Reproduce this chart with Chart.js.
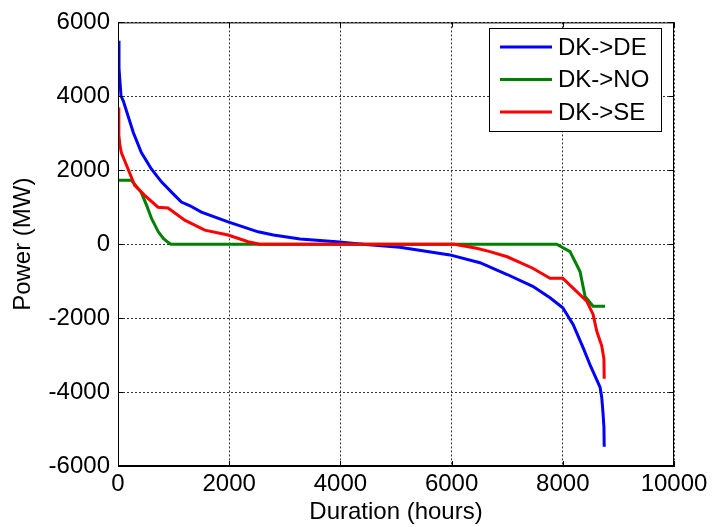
<!DOCTYPE html>
<html>
<head>
<meta charset="utf-8">
<script src="https://cdn.jsdelivr.net/npm/chart.js@4/dist/chart.umd.min.js"></script>
<style>
  html, body { margin: 0; padding: 0; background: #fff; }
  #wrap { width: 712px; height: 527px; }
</style>
</head>
<body>
<div id="wrap"><canvas id="durChart" width="712" height="527"></canvas></div>
<script>
// duration curves (hours, MW)
var hoursDE = [0, 18, 18, 54, 96, 275, 420, 600, 785, 1020, 1140, 1295, 1500, 1980, 2520, 2795, 3275, 3930, 4400, 5070, 5970, 6510, 7000, 7460, 7770, 8000, 8185, 8365, 8500, 8670, 8700, 8720, 8740, 8745];
var powerDE = [5460, 5460, 4765, 4010, 3870, 3020, 2480, 2035, 1680, 1320, 1140, 1040, 870, 604, 335, 247, 140, 67, 0, -85, -290, -500, -820, -1140, -1450, -1720, -2170, -2800, -3300, -3870, -4140, -4500, -4945, -5480];

var hoursNO = [0, 240, 415, 515, 605, 725, 815, 900, 950, 7890, 8130, 8310, 8400, 8545, 8760];
var powerNO = [1730, 1730, 1410, 1050, 690, 335, 155, 50, 0, 0, -200, -740, -1410, -1680, -1680];

var hoursSE = [0, 15, 36, 60, 155, 300, 480, 720, 900, 1200, 1560, 1980, 2340, 2550, 6050, 6450, 6690, 7000, 7460, 7770, 8000, 8185, 8430, 8545, 8610, 8670, 8700, 8740, 8745];
var powerSE = [3700, 2950, 2660, 2480, 2130, 1590, 1320, 1000, 980, 650, 380, 247, 67, 0, 0, -110, -200, -340, -650, -920, -920, -1190, -1540, -1900, -2350, -2620, -2750, -3100, -3640];

var seriesNames = ['DK->DE', 'DK->NO', 'DK->SE'];
var seriesColors = ['#0000ff', '#008000', '#ff0000'];
var xTicks = [0, 2000, 4000, 6000, 8000, 10000];
var yTicks = [-6000, -4000, -2000, 0, 2000, 4000, 6000];

function toPoints(xs, ys) {
    return xs.map(function (x, i) { return { x: x, y: ys[i] }; });
}

var FONT = 'Liberation Sans, Arial, sans-serif';

// matlab style box, inner ticks and legend
var matlabBox = {
    id: 'matlabBox',
    afterDraw: function (chart) {
        var ctx = chart.ctx;
        var a = chart.chartArea;
        var xs = chart.scales.x, ys = chart.scales.y;
        ctx.save();
        ctx.strokeStyle = '#000';
        ctx.lineWidth = 1;
        ctx.strokeRect(a.left + 0.5, a.top + 0.5, a.right - a.left - 1, a.bottom - a.top - 1);
        ctx.beginPath();
        xTicks.forEach(function (v) {
            var px = Math.round(xs.getPixelForValue(v)) + 0.5;
            ctx.moveTo(px, a.bottom); ctx.lineTo(px, a.bottom - 5);
            ctx.moveTo(px, a.top); ctx.lineTo(px, a.top + 5);
        });
        yTicks.forEach(function (v) {
            var py = Math.round(ys.getPixelForValue(v)) + 0.5;
            ctx.moveTo(a.left, py); ctx.lineTo(a.left + 5, py);
            ctx.moveTo(a.right, py); ctx.lineTo(a.right - 5, py);
        });
        ctx.stroke();

        // legend box
        var bx = 489, by = 28, bw = 172, bh = 103;
        ctx.fillStyle = '#fff';
        ctx.fillRect(bx, by, bw, bh);
        ctx.strokeRect(bx + 0.5, by + 0.5, bw, bh);
        ctx.font = '24px ' + FONT;
        ctx.textBaseline = 'middle';
        chart.data.datasets.forEach(function (ds, i) {
            var cy = 47 + i * 32.5;
            ctx.strokeStyle = ds.borderColor;
            ctx.lineWidth = 3;
            ctx.beginPath();
            ctx.moveTo(500, cy); ctx.lineTo(552, cy);
            ctx.stroke();
            ctx.fillStyle = '#000';
            ctx.fillText(ds.label, 558, cy + 1);
        });
        ctx.restore();
    }
};

new Chart(document.getElementById('durChart').getContext('2d'), {
    type: 'scatter',
    data: {
        datasets: [
            { label: seriesNames[0], data: toPoints(hoursDE, powerDE), order: 2 },
            { label: seriesNames[1], data: toPoints(hoursNO, powerNO), order: 1 },
            { label: seriesNames[2], data: toPoints(hoursSE, powerSE), order: 0 }
        ].map(function (d, i) {
            d.showLine = true;
            d.borderColor = seriesColors[i];
            d.backgroundColor = seriesColors[i];
            d.borderWidth = 3;
            d.pointRadius = 0;
            d.tension = 0;
            return d;
        })
    },
    options: {
        responsive: false,
        animation: false,
        layout: { padding: { left: 0, top: 19, right: 38, bottom: 0 } },
        plugins: { legend: { display: false }, tooltip: { enabled: false } },
        scales: {
            x: {
                type: 'linear', min: 0, max: 10000,
                afterBuildTicks: function (s) { s.ticks = xTicks.map(function (v) { return { value: v }; }); },
                afterFit: function (s) { s.height = 61; },
                ticks: { color: '#000', font: { family: FONT, size: 24 }, padding: 4, maxRotation: 0,
                         callback: function (v) { return String(v); } },
                grid: { color: '#333', lineWidth: 1, drawTicks: false },
                border: { display: true, color: '#000', dash: [2, 2] },
                title: { display: true, text: 'Duration (hours)', color: '#000',
                         font: { family: FONT, size: 24 }, padding: { top: 0, bottom: 0 } }
            },
            y: {
                type: 'linear', min: -6000, max: 6000,
                afterBuildTicks: function (s) { s.ticks = yTicks.map(function (v) { return { value: v }; }); },
                afterFit: function (s) { s.width = 118; },
                ticks: { color: '#000', font: { family: FONT, size: 24 }, padding: 8,
                         callback: function (v) { return String(v); } },
                grid: { color: '#333', lineWidth: 1, drawTicks: false },
                border: { display: true, color: '#000', dash: [2, 2] },
                title: { display: true, text: 'Power (MW)', color: '#000',
                         font: { family: FONT, size: 24 }, padding: { top: 9, bottom: 0 } }
            }
        }
    },
    plugins: [matlabBox]
});
</script>
</body>
</html>
